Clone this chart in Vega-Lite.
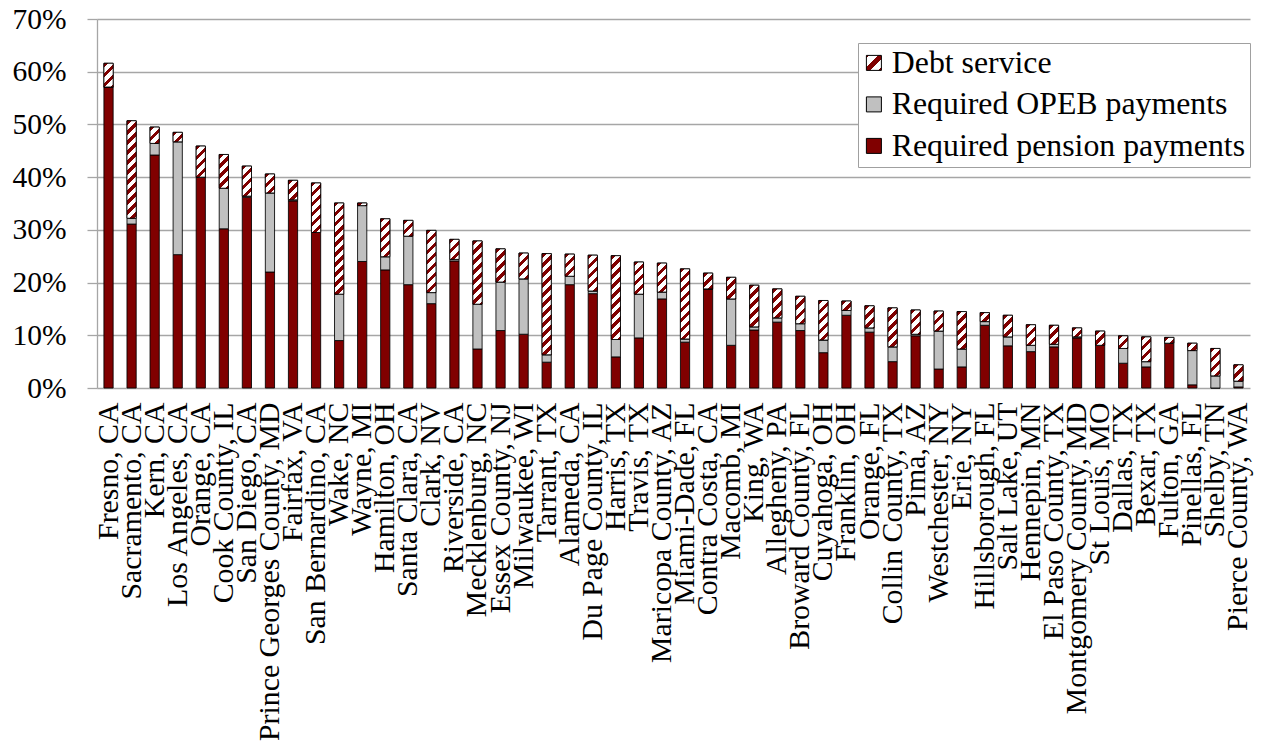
{
  "$schema": "https://vega.github.io/schema/vega-lite/v6.json",
  "width": 1153,
  "height": 369,
  "autosize": {"type": "none"},
  "padding": {"left": 97, "top": 19, "right": 11, "bottom": 356},
  "background": "white",
  "config": {"font": "Liberation Serif, Times New Roman, DejaVu Serif, serif", "view": {"stroke": null}},
  "data": {"values": [
    {"county": "Fresno, CA", "pension": 57.1, "opeb": 0, "debt": 4.5},
    {"county": "Sacramento, CA", "pension": 31.1, "opeb": 1.1, "debt": 18.5},
    {"county": "Kern, CA", "pension": 44.2, "opeb": 2.2, "debt": 3.1},
    {"county": "Los Angeles, CA", "pension": 25.3, "opeb": 21.4, "debt": 1.8},
    {"county": "Orange, CA", "pension": 40.0, "opeb": 0, "debt": 5.9},
    {"county": "Cook County, IL", "pension": 30.2, "opeb": 7.7, "debt": 6.4},
    {"county": "San Diego, CA", "pension": 36.2, "opeb": 0.2, "debt": 5.7},
    {"county": "Prince Georges County, MD", "pension": 22.0, "opeb": 15.0, "debt": 3.6},
    {"county": "Fairfax, VA", "pension": 35.5, "opeb": 0.2, "debt": 3.7},
    {"county": "San Bernardino, CA", "pension": 29.5, "opeb": 0, "debt": 9.4},
    {"county": "Wake, NC", "pension": 9.0, "opeb": 8.8, "debt": 17.3},
    {"county": "Wayne, MI", "pension": 24.0, "opeb": 10.6, "debt": 0.5},
    {"county": "Hamilton, OH", "pension": 22.4, "opeb": 2.5, "debt": 7.2},
    {"county": "Santa Clara, CA", "pension": 19.6, "opeb": 9.2, "debt": 3.0},
    {"county": "Clark, NV", "pension": 16.0, "opeb": 2.1, "debt": 11.8},
    {"county": "Riverside, CA", "pension": 24.1, "opeb": 0.3, "debt": 3.8},
    {"county": "Mecklenburg, NC", "pension": 7.4, "opeb": 8.5, "debt": 12.0},
    {"county": "Essex County, NJ", "pension": 10.9, "opeb": 9.2, "debt": 6.3},
    {"county": "Milwaukee, WI", "pension": 10.2, "opeb": 10.5, "debt": 4.9},
    {"county": "Tarrant, TX", "pension": 4.9, "opeb": 1.4, "debt": 19.2},
    {"county": "Alameda, CA", "pension": 19.6, "opeb": 1.6, "debt": 4.2},
    {"county": "Du Page County, IL", "pension": 17.9, "opeb": 0.5, "debt": 6.8},
    {"county": "Harris, TX", "pension": 5.9, "opeb": 3.3, "debt": 15.9},
    {"county": "Travis, TX", "pension": 9.5, "opeb": 8.3, "debt": 6.1},
    {"county": "Maricopa County, AZ", "pension": 16.9, "opeb": 1.3, "debt": 5.5},
    {"county": "Miami-Dade, FL", "pension": 8.7, "opeb": 0.6, "debt": 13.3},
    {"county": "Contra Costa, CA", "pension": 18.8, "opeb": 0, "debt": 3.0},
    {"county": "Macomb, MI", "pension": 8.1, "opeb": 8.8, "debt": 4.1},
    {"county": "King, WA", "pension": 11.0, "opeb": 0.6, "debt": 7.9},
    {"county": "Allegheny, PA", "pension": 12.5, "opeb": 0.8, "debt": 5.5},
    {"county": "Broward County, FL", "pension": 10.9, "opeb": 1.3, "debt": 5.2},
    {"county": "Cuyahoga, OH", "pension": 6.7, "opeb": 2.4, "debt": 7.5},
    {"county": "Franklin, OH", "pension": 13.8, "opeb": 0.9, "debt": 1.8},
    {"county": "Orange, FL", "pension": 10.6, "opeb": 0.8, "debt": 4.2},
    {"county": "Collin County, TX", "pension": 5.0, "opeb": 2.8, "debt": 7.4},
    {"county": "Pima, AZ", "pension": 9.9, "opeb": 0.3, "debt": 4.6},
    {"county": "Westchester, NY", "pension": 3.6, "opeb": 7.2, "debt": 3.8},
    {"county": "Erie, NY", "pension": 4.0, "opeb": 3.4, "debt": 7.1},
    {"county": "Hillsborough, FL", "pension": 11.9, "opeb": 0.7, "debt": 1.7},
    {"county": "Salt Lake, UT", "pension": 8.0, "opeb": 1.7, "debt": 4.1},
    {"county": "Hennepin, MN", "pension": 6.9, "opeb": 1.2, "debt": 3.9},
    {"county": "El Paso County, TX", "pension": 7.8, "opeb": 0.5, "debt": 3.6},
    {"county": "Montgomery County, MD", "pension": 9.5, "opeb": 0.2, "debt": 1.7},
    {"county": "St Louis, MO", "pension": 8.1, "opeb": 0, "debt": 2.7},
    {"county": "Dallas, TX", "pension": 4.7, "opeb": 2.8, "debt": 2.4},
    {"county": "Bexar, TX", "pension": 4.0, "opeb": 1.0, "debt": 4.7},
    {"county": "Fulton, GA", "pension": 8.5, "opeb": 0, "debt": 1.1},
    {"county": "Pinellas, FL", "pension": 0.6, "opeb": 6.5, "debt": 1.4},
    {"county": "Shelby, TN", "pension": 0, "opeb": 2.3, "debt": 5.2},
    {"county": "Pierce County, WA", "pension": 0.2, "opeb": 1.1, "debt": 3.1}
  ]},
  "transform": [
    {"fold": ["pension", "opeb", "debt"], "as": ["key", "v"]},
    {"stack": "v", "groupby": ["county"], "sort": [{"field": "key", "order": "descending"}], "as": ["v0", "v1"]}
  ],
  "encoding": {
    "x": {
      "field": "county", "type": "nominal", "sort": null,
      "scale": {"paddingInner": 0.6, "paddingOuter": 0.3},
      "axis": {"title": null, "labelAngle": -90, "labelFontSize": 29.8, "labelFont": "Liberation Serif, Times New Roman, DejaVu Serif, serif", "labelColor": "black", "ticks": false, "tickSize": 0, "domain": false, "labelPadding": 14, "labelLimit": 600, "grid": false}
    },
    "y": {
      "field": "v1", "type": "quantitative",
      "scale": {"domain": [0, 70], "nice": false},
      "axis": {"title": null, "values": [0, 10, 20, 30, 40, 50, 60, 70], "labelExpr": "datum.value + '%'", "labelFontSize": 29.5, "labelFont": "Liberation Serif, Times New Roman, DejaVu Serif, serif", "labelColor": "black", "grid": true, "gridColor": "#a6a6a6", "gridWidth": 1.3, "domainColor": "#a6a6a6", "domainWidth": 1.3, "tickColor": "#a6a6a6", "tickWidth": 1.3, "tickSize": 10, "labelPadding": 21}
    },
    "y2": {"field": "v0"}
  },
  "layer": [
    {
      "mark": {"type": "bar", "stroke": "#000000", "strokeWidth": 1, "strokeOpacity": 0.85},
      "encoding": {
        "color": {
          "field": "key", "type": "nominal",
          "scale": {"domain": ["debt", "opeb", "pension"], "range": [{"expr": "{gradient: 'linear', x1: 0, y1: 0, x2: 1, y2: 1, stops: [{offset: 0, color: '#800000'}, {offset: 0.1, color: '#800000'}, {offset: 0.1, color: '#ffffff'}, {offset: 0.38, color: '#ffffff'}, {offset: 0.38, color: '#800000'}, {offset: 0.62, color: '#800000'}, {offset: 0.62, color: '#ffffff'}, {offset: 0.9, color: '#ffffff'}, {offset: 0.9, color: '#800000'}, {offset: 1, color: '#800000'}]}"}, "#c0c0c0", "#800000"]},
          "legend": {
            "title": null, "orient": "none", "legendX": 761, "legendY": 24,
            "symbolType": "square", "symbolSize": 225, "symbolStrokeColor": "black", "symbolStrokeWidth": 1, "symbolOpacity": 1,
            "labelFontSize": 31.8, "labelFont": "Liberation Serif, Times New Roman, DejaVu Serif, serif", "labelColor": "black", "labelLimit": 600,
            "labelExpr": "datum.value === 'debt' ? 'Debt service' : datum.value === 'opeb' ? 'Required OPEB payments' : 'Required pension payments'",
            "padding": 4, "rowPadding": 8.5, "fillColor": "white", "strokeColor": "#a0a0a0", "symbolOffset": -4, "labelOffset": 2
          }
        }
      }
    },
    {
      "transform": [{"filter": "datum.key === 'debt'"}],
      "mark": {
        "type": "bar", "stroke": "#000000", "strokeWidth": 1, "strokeOpacity": 0.85,
        "fill": {"expr": "{gradient: 'linear', x1: 0, y1: 0, x2: 9.22*120/(85+pow(datum.v*5.27,2)), y2: datum.v*5.27*120/(85+pow(datum.v*5.27,2)), stops: [{offset: 0, color: '#800000'}, {offset: 0.0375, color: '#800000'}, {offset: 0.0375, color: '#ffffff'}, {offset: 0.08333, color: '#ffffff'}, {offset: 0.08333, color: '#800000'}, {offset: 0.12083, color: '#800000'}, {offset: 0.12083, color: '#ffffff'}, {offset: 0.16667, color: '#ffffff'}, {offset: 0.16667, color: '#800000'}, {offset: 0.20417, color: '#800000'}, {offset: 0.20417, color: '#ffffff'}, {offset: 0.25, color: '#ffffff'}, {offset: 0.25, color: '#800000'}, {offset: 0.2875, color: '#800000'}, {offset: 0.2875, color: '#ffffff'}, {offset: 0.33333, color: '#ffffff'}, {offset: 0.33333, color: '#800000'}, {offset: 0.37083, color: '#800000'}, {offset: 0.37083, color: '#ffffff'}, {offset: 0.41667, color: '#ffffff'}, {offset: 0.41667, color: '#800000'}, {offset: 0.45417, color: '#800000'}, {offset: 0.45417, color: '#ffffff'}, {offset: 0.5, color: '#ffffff'}, {offset: 0.5, color: '#800000'}, {offset: 0.5375, color: '#800000'}, {offset: 0.5375, color: '#ffffff'}, {offset: 0.58333, color: '#ffffff'}, {offset: 0.58333, color: '#800000'}, {offset: 0.62083, color: '#800000'}, {offset: 0.62083, color: '#ffffff'}, {offset: 0.66667, color: '#ffffff'}, {offset: 0.66667, color: '#800000'}, {offset: 0.70417, color: '#800000'}, {offset: 0.70417, color: '#ffffff'}, {offset: 0.75, color: '#ffffff'}, {offset: 0.75, color: '#800000'}, {offset: 0.7875, color: '#800000'}, {offset: 0.7875, color: '#ffffff'}, {offset: 0.83333, color: '#ffffff'}, {offset: 0.83333, color: '#800000'}, {offset: 0.87083, color: '#800000'}, {offset: 0.87083, color: '#ffffff'}, {offset: 0.91667, color: '#ffffff'}, {offset: 0.91667, color: '#800000'}, {offset: 0.95417, color: '#800000'}, {offset: 0.95417, color: '#ffffff'}, {offset: 1, color: '#ffffff'}]}"}
      }
    }
  ]
}
